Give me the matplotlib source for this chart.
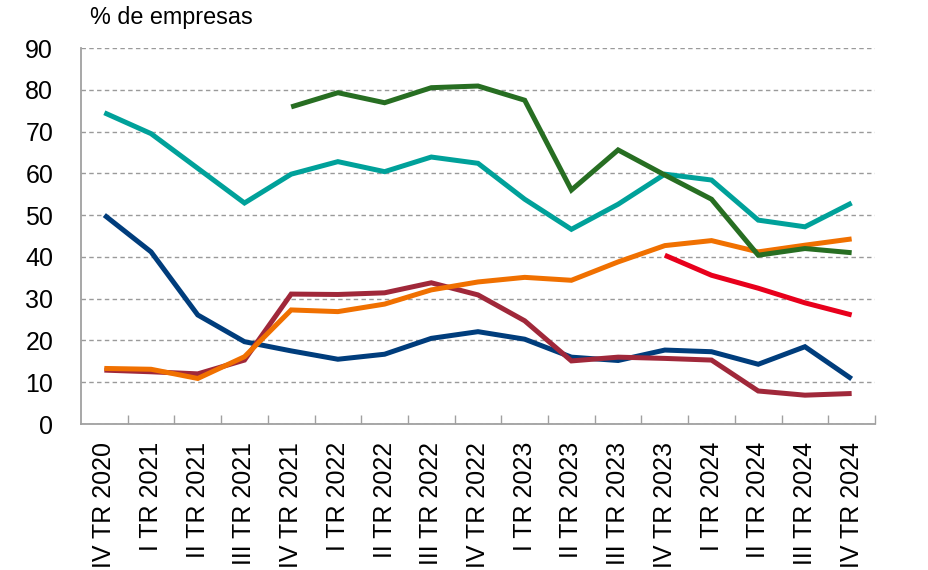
import numpy as np
import matplotlib
matplotlib.use("Agg")
import matplotlib.pyplot as plt
from matplotlib.ticker import FixedLocator

plt.rcParams['font.family'] = ['Liberation Sans', 'DejaVu Sans']

quarters = ["IV TR 2020", "I TR 2021", "II TR 2021", "III TR 2021", "IV TR 2021",
            "I TR 2022", "II TR 2022", "III TR 2022", "IV TR 2022",
            "I TR 2023", "II TR 2023", "III TR 2023", "IV TR 2023",
            "I TR 2024", "II TR 2024", "III TR 2024", "IV TR 2024"]

teal = [74.5, 69.5, 61.2, 52.9, 59.8, 62.8, 60.4, 63.9, 62.4,
        53.8, 46.6, 52.6, 59.8, 58.4, 48.8, 47.2, 52.9]
navy = [50.0, 41.2, 26.1, 19.7, 17.5, 15.5, 16.7, 20.5, 22.1,
        20.3, 16.0, 15.2, 17.7, 17.3, 14.3, 18.5, 10.8]
maroon = [12.9, 12.5, 12.0, 15.3, 31.1, 31.0, 31.4, 33.8, 30.9,
          24.7, 15.1, 16.0, 15.7, 15.3, 7.9, 6.9, 7.3]
orange = [13.3, 13.1, 10.9, 16.1, 27.3, 26.9, 28.7, 32.1, 34.0,
          35.1, 34.4, 38.8, 42.7, 43.9, 41.2, 42.8, 44.3]
green = [None, None, None, None, 75.9, 79.3, 76.9, 80.5, 80.9,
         77.5, 56.0, 65.6, 59.6, 53.8, 40.4, 42.0, 41.0]
red = [None] * 12 + [40.4, 35.6, 32.5, 29.0, 26.1]

series = [
    (teal, "#00A19A"),
    (navy, "#003D7C"),
    (maroon, "#A0283A"),
    (orange, "#F07000"),
    (green, "#276E22"),
    (red, "#E8001C"),
]

fig = plt.figure(figsize=(9.29, 5.70), dpi=100)
ax = fig.add_axes([81 / 929, 1 - 424 / 570, (875 - 81) / 929, (424 - 48) / 570])

x = np.arange(len(quarters))
for vals, col in series:
    y = np.array([np.nan if v is None else v for v in vals], dtype=float)
    ax.plot(x, y, color=col, lw=3.6, solid_joinstyle='miter', solid_capstyle='butt')

ax.set_xlim(-0.5, len(quarters) - 0.5)
ax.set_ylim(0, 90)
ax.set_yticks(np.arange(0, 91, 10))
ax.yaxis.grid(True, color="#9A9A9A", lw=1.0, ls=(0, (3.2, 2.4)))
ax.set_axisbelow(True)

ax.set_xticks(x)
ax.set_xticklabels(quarters, rotation=90, fontsize=18)
ax.xaxis.set_minor_locator(FixedLocator(np.arange(0.5, len(quarters) - 0.4, 1)))
ax.tick_params(axis='x', which='major', length=0, pad=13)
ax.tick_params(axis='x', which='minor', direction='in', length=6.5, width=1.0, color="#A0A0A0")
ax.tick_params(axis='y', length=0, pad=20, labelsize=18)

for side in ("top", "right"):
    ax.spines[side].set_visible(False)
for side in ("left", "bottom"):
    ax.spines[side].set_color("#A0A0A0")
    ax.spines[side].set_linewidth(1.3)

fig.text(90 / 929, 1 - 6 / 570, "% de empresas", fontsize=16.8, ha='left', va='top')

fig.savefig("out.png", dpi=100)
